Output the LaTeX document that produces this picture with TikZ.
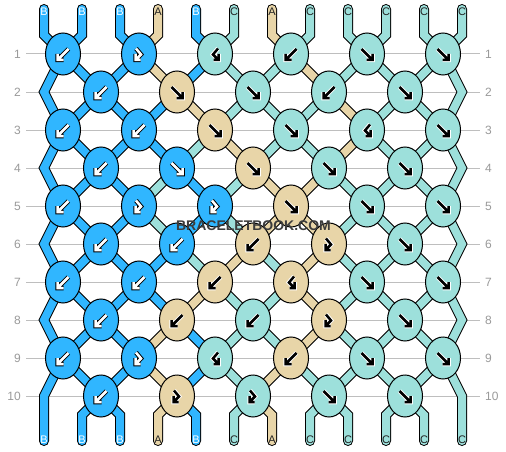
\documentclass[tikz,border=0pt]{standalone}
\usepackage{fontspec}
\setmainfont{Liberation Sans}
\usetikzlibrary{shapes.geometric}
\definecolor{colB}{HTML}{30B6FF}
\definecolor{colA}{HTML}{E8D5A8}
\definecolor{colC}{HTML}{9DE0DB}
\definecolor{gridcol}{HTML}{BEBEBE}
\definecolor{numcol}{HTML}{9A9A9A}
\definecolor{wmcol}{HTML}{3C3C3C}
\definecolor{txtdark}{HTML}{222222}
% glyph paths (local px, y down)
\def\gpf{(-5.5,-5) -- (4.5,5) (5.5,0) -- (5.5,6) -- (-0.5,6)}
\def\gpb{(5.5,-5) -- (-4.5,5) (-5.5,0) -- (-5.5,6) -- (0.5,6)}
\def\gpfb{(-3,-5.5) -- (2,0.5) -- (-2.5,5) (-3.5,0) -- (-3.5,6) -- (1.5,6)}
\def\gpbf{(3,-5.5) -- (-2,0.5) -- (2.5,5) (3.5,0) -- (3.5,6) -- (-1.5,6)}
\def\gcinB{white}\def\gcoutB{black}
\def\gcinA{black}\def\gcoutA{white}
\def\gcinC{black}\def\gcoutC{white}
\def\lcB{white}\def\lcA{txtdark}\def\lcC{txtdark}
\newcommand\segrow[3]{%
  \foreach \c [count=\i from 2] in {#3} {
    \draw[strandline=\c] (P-#1-\i) -- (P-#2-\i);
  }%
}
\newcommand\knotrow[2]{%
  \foreach \t/\c [count=\k] in {#2} {
    \ifodd#1\relax \pgfmathtruncatemacro\pp{2*\k-1}\else \pgfmathtruncatemacro\pp{2*\k}\fi
    \node[knot, fill=col\c] (K-#1-\k) at (P-#1-\pp) {};
    \edef\gi{\csname gcin\c\endcsname}%
    \edef\go{\csname gcout\c\endcsname}%
    \edef\gp{\csname gp\t\endcsname}%
    \begin{scope}[shift={(K-#1-\k.center)}]
      \draw[draw=\go, line width=4.5pt, line cap=square, line join=miter] \gp;
      \draw[draw=\gi, line width=2.5pt, line cap=square, line join=miter] \gp;
    \end{scope}
  }%
}
\begin{document}
\begin{tikzpicture}[x=1pt,y=-1pt,
  strandline/.style={draw=black, double=col#1, double distance=8pt, line width=1pt, line join=miter},
  knot/.style={ellipse, draw=black, line width=1pt, minimum width=35pt, minimum height=42pt, inner sep=0pt},
  gridline/.style={draw=gridcol, line width=1pt},
  rownum/.style={text=numcol, font=\fontsize{12}{14}\selectfont, inner sep=0pt},
  slabel/.style={font=\fontsize{11}{13}\selectfont, inner sep=0pt},
  wm/.style={font=\fontsize{14}{16}\selectfont\bfseries, inner sep=0pt}]
\fill[white] (0,0) rectangle (506,452);
\useasboundingbox (0,0) rectangle (506,452);
% grid lines and row numbers
\foreach \r in {1,...,10} {
  \pgfmathsetmacro\yy{54+38*(\r-1)}
  \coordinate (GL-\r) at (26,\yy);
  \coordinate (GR-\r) at (480,\yy);
  \draw[gridline] (GL-\r) -- (GR-\r);
  \node[rownum, anchor=east] (NL-\r) at (21,\yy) {\r};
  \node[rownum, anchor=west] (NR-\r) at (485,\yy) {\r};
}
% knot / strand positions
\foreach \r in {1,...,10} {
  \pgfmathsetmacro\yy{54+38*(\r-1)}
  \foreach \p in {1,...,12} {
    \ifodd\r\relax
      \pgfmathsetmacro\xx{63+76*int((\p-1)/2)}
    \else
      \ifnum\p=1 \def\xx{44}\else\ifnum\p=12 \def\xx{462}\else
        \pgfmathsetmacro\xx{101+76*(int(\p/2)-1)}\fi\fi
    \fi
    \coordinate (P-\r-\p) at (\xx,\yy);
  }
}
\foreach \p in {1,...,12} {
  \pgfmathsetmacro\xx{44+38*(\p-1)}
  \coordinate (T-\p) at (\xx,9);
  \coordinate (U-\p) at (\xx,35);
  \coordinate (D-\p) at (\xx,415);
  \coordinate (E-\p) at (\xx,441);
}
% strands: top and bottom ends
\foreach \c [count=\p] in {B,B,B,A,B,C,A,C,C,C,C,C} {
  \ifnum\p>1 \ifnum\p<12
    \draw[strandline=\c, line cap=round] (T-\p) -- (U-\p) -- (P-1-\p);
    \draw[strandline=\c, line cap=round] (P-10-\p) -- (D-\p) -- (E-\p);
  \fi\fi
}
% edge strands
\draw[strandline=B, line cap=round] (T-1) -- (U-1) -- (P-1-1) -- (P-2-1) -- (P-3-1) -- (P-4-1) -- (P-5-1) -- (P-6-1) -- (P-7-1) -- (P-8-1) -- (P-9-1) -- (P-10-1) -- (D-1) -- (E-1);
\draw[strandline=C, line cap=round] (T-12) -- (U-12) -- (P-1-12) -- (P-2-12) -- (P-3-12) -- (P-4-12) -- (P-5-12) -- (P-6-12) -- (P-7-12) -- (P-8-12) -- (P-9-12) -- (P-10-12) -- (D-12) -- (E-12);
% interior strand segments
\segrow{1}{2}{B,B,A,B,C,C,A,C,C,C}
\segrow{2}{3}{B,B,B,A,C,C,C,A,C,C}
\segrow{3}{4}{B,B,B,C,A,C,C,A,C,C}
\segrow{4}{5}{B,B,C,B,C,A,A,C,C,C}
\segrow{5}{6}{B,B,C,B,C,A,A,C,C,C}
\segrow{6}{7}{B,B,B,C,A,C,A,C,C,C}
\segrow{7}{8}{B,B,B,A,C,C,A,C,C,C}
\segrow{8}{9}{B,B,A,B,C,C,A,C,C,C}
\segrow{9}{10}{B,B,A,B,C,A,C,C,C,C}
% knots
\knotrow{1}{b/B,fb/B,bf/C,b/C,f/C,f/C}
\knotrow{2}{b/B,f/A,f/C,b/C,f/C}
\knotrow{3}{b/B,b/B,f/A,f/C,bf/C,f/C}
\knotrow{4}{b/B,f/B,f/A,f/C,f/C}
\knotrow{5}{b/B,fb/B,fb/B,f/A,f/C,f/C}
\knotrow{6}{b/B,b/B,b/A,fb/A,f/C}
\knotrow{7}{b/B,b/B,b/A,bf/A,f/C,f/C}
\knotrow{8}{b/B,b/A,b/C,fb/A,f/C}
\knotrow{9}{b/B,fb/B,bf/C,b/A,f/C,f/C}
\knotrow{10}{b/B,fb/A,fb/C,f/C,f/C}
% strand labels
\foreach \c [count=\p] in {B,B,B,A,B,C,A,C,C,C,C,C} {
  \pgfmathsetmacro\xx{44+38*(\p-1)}
  \edef\lc{\csname lc\c\endcsname}
  \node[slabel, text=\lc] (LT-\p) at (\xx,12) {\c};
  \node[slabel, text=\lc] (LB-\p) at (\xx,440) {\c};
}
% watermark
\node[wm, text=wmcol] (WM) at (253.5,225.5) {BRACELETBOOK.COM};
\end{tikzpicture}
\end{document}
